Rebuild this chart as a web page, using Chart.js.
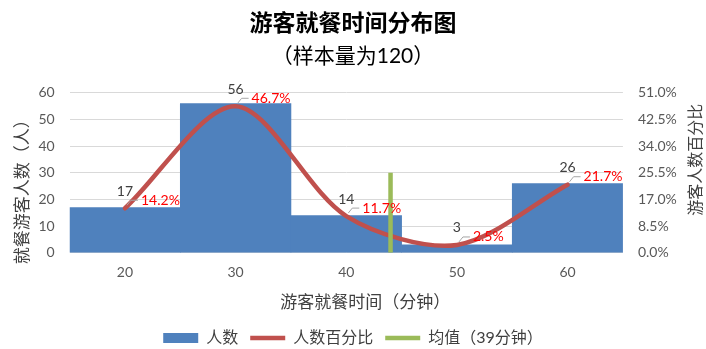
<!DOCTYPE html>
<html>
<head>
<meta charset="utf-8">
<script src="https://cdn.jsdelivr.net/npm/chart.js@4/dist/chart.umd.min.js"></script>
<style>
  html, body { margin: 0; padding: 0; background: #fff; }
</style>
</head>
<body>
<canvas id="chart" width="706" height="349"></canvas>
<script>
// dining time buckets (minutes) and how many visitors fell in each
const categories = ['20', '30', '40', '50', '60'];
const counts = [17, 56, 14, 3, 26];
const percents = [14.2, 46.7, 11.7, 2.5, 21.7];

// mean marker: where it sits on the minute axis and how tall it is (people)
const meanMinute = 44;
const meanHeight = 30;

const countTicks = [0, 10, 20, 30, 40, 50, 60];
const percentTicks = [0, 8.5, 17, 25.5, 34, 42.5, 51];

const FONT = 'Lato, "Noto Sans CJK SC", sans-serif';
const TITLE_COLOR = '#404040';
Chart.defaults.font.family = FONT;

function drawText(ctx, text, x, y, size, rotate) {
    ctx.save();
    ctx.translate(x, y);
    if (rotate) ctx.rotate(-Math.PI / 2);
    ctx.font = size + 'px ' + FONT;
    ctx.fillStyle = TITLE_COLOR;
    ctx.textAlign = 'center';
    ctx.textBaseline = 'middle';
    ctx.fillText(text, 0, 0);
    ctx.restore();
}

/**
 * Count above each point, red percent to its right, with a small grey leader.
 * Axis titles are laid out by Chart.js (transparent) and painted here, since
 * the original has them off-centre and the right one reads bottom-to-top.
 */
const pointLabels = {
    id: 'pointLabels',
    afterDatasetsDraw(chart) {
        const ctx = chart.ctx;
        const meta = chart.getDatasetMeta(1);
        ctx.save();
        meta.data.forEach((pt, i) => {
            const { x, y } = pt;
            ctx.strokeStyle = '#a6a6a6';
            ctx.lineWidth = 1;
            ctx.beginPath();
            ctx.moveTo(x + 2, y - 3);
            ctx.lineTo(x + 6, y - 8);
            ctx.lineTo(x + 13, y - 8);
            ctx.stroke();

            ctx.font = '14px ' + FONT;
            ctx.textBaseline = 'middle';
            ctx.fillStyle = '#404040';
            ctx.textAlign = 'center';
            ctx.fillText(String(counts[i]), x, y - 17);
            ctx.fillStyle = '#ff0000';
            ctx.textAlign = 'left';
            ctx.fillText(percents[i].toFixed(1) + '%', x + 16, y - 8);
        });
        ctx.restore();
    },
    afterDraw(chart) {
        const ctx = chart.ctx;
        const { x, y, y2 } = chart.scales;
        const midY = (y.top + y.bottom) / 2;

        const tl = y.options.title;
        drawText(ctx, tl.text, y.left + tl.padding.top + 10.2, midY + 15, 17, true);

        const tr = y2.options.title;
        drawText(ctx, tr.text, y2.right - tr.padding.top - 9.6, midY - 13, 16, true);

        const tx = x.options.title;
        drawText(ctx, tx.text, (x.left + x.right) / 2 + 19, x.bottom - tx.padding.bottom - 10.2, 17, false);
    },
};

new Chart(document.getElementById('chart'), {
    type: 'bar',
    data: {
        labels: categories,
        datasets: [
            {
                type: 'line',
                label: '均值（39分钟）',
                data: [{ x: meanMinute, y: 0 }, { x: meanMinute, y: meanHeight }],
                xAxisID: 'xm',
                yAxisID: 'y',
                borderColor: '#9bbb59',
                backgroundColor: '#9bbb59',
                borderWidth: 4.5,
                pointRadius: 0,
                pointStyle: 'line',
                order: 1,
            },
            {
                type: 'line',
                label: '人数百分比',
                data: percents,
                xAxisID: 'x',
                yAxisID: 'y2',
                borderColor: '#c0504d',
                backgroundColor: '#c0504d',
                borderWidth: 4.5,
                borderCapStyle: 'round',
                tension: 0.3,
                pointRadius: 0,
                pointStyle: 'line',
                order: 2,
            },
            {
                type: 'bar',
                label: '人数',
                data: counts,
                xAxisID: 'x',
                yAxisID: 'y',
                backgroundColor: '#4f81bd',
                borderWidth: 0,
                grouped: false,
                barPercentage: 1,
                categoryPercentage: 1,
                pointStyle: 'rect',
                order: 3,
            },
        ],
    },
    options: {
        responsive: false,
        animation: false,
        events: [],
        layout: { padding: 0 },
        plugins: {
            title: {
                display: true,
                text: '游客就餐时间分布图',
                color: '#000',
                font: { size: 23, weight: 'bold' },
                padding: { top: 10, bottom: 0 },
            },
            subtitle: {
                display: true,
                text: '（样本量为120）',
                color: '#000',
                font: { size: 21 },
                padding: { top: 6, bottom: 24 },
            },
            legend: {
                position: 'bottom',
                maxHeight: 31,
                labels: {
                    color: '#404040',
                    font: { size: 16 },
                    usePointStyle: true,
                    pointStyleWidth: 35,
                    boxHeight: 10,
                    padding: 12,
                    sort: (a, b) => b.datasetIndex - a.datasetIndex,
                },
            },
            tooltip: { enabled: false },
        },
        scales: {
            x: {
                type: 'category',
                offset: true,
                grid: { display: false, drawTicks: false },
                border: { display: false },
                ticks: { padding: 11, color: '#595959', font: { size: 14 } },
                title: {
                    display: true,
                    text: '游客就餐时间（分钟）',
                    color: 'transparent',
                    font: { size: 17 },
                    padding: { top: 1, bottom: 5 },
                },
            },
            xm: {
                type: 'linear',
                min: 15,
                max: 65,
                offset: false,
                display: false,
            },
            y: {
                position: 'left',
                min: 0,
                max: 60,
                afterBuildTicks: s => { s.ticks = countTicks.map(v => ({ value: v })); },
                grid: { color: '#d9d9d9', drawTicks: true, tickLength: 9, tickColor: 'transparent' },
                border: { display: false },
                ticks: { padding: 6, color: '#595959', font: { size: 14 } },
                title: {
                    display: true,
                    text: '就餐游客人数（人）',
                    color: 'transparent',
                    font: { size: 17 },
                    padding: { top: 12, bottom: 0 },
                },
            },
            y2: {
                position: 'right',
                min: 0,
                max: 51,
                afterBuildTicks: s => { s.ticks = percentTicks.map(v => ({ value: v })); },
                grid: { drawOnChartArea: false, drawTicks: true, tickLength: 9, tickColor: 'transparent' },
                border: { display: false },
                ticks: {
                    padding: 6,
                    color: '#595959',
                    font: { size: 14 },
                    callback: v => v.toFixed(1) + '%',
                },
                title: {
                    display: true,
                    text: '游客人数百分比',
                    color: 'transparent',
                    font: { size: 16 },
                    padding: { top: 1, bottom: 3 },
                },
            },
        },
    },
    plugins: [pointLabels],
});
</script>
</body>
</html>
